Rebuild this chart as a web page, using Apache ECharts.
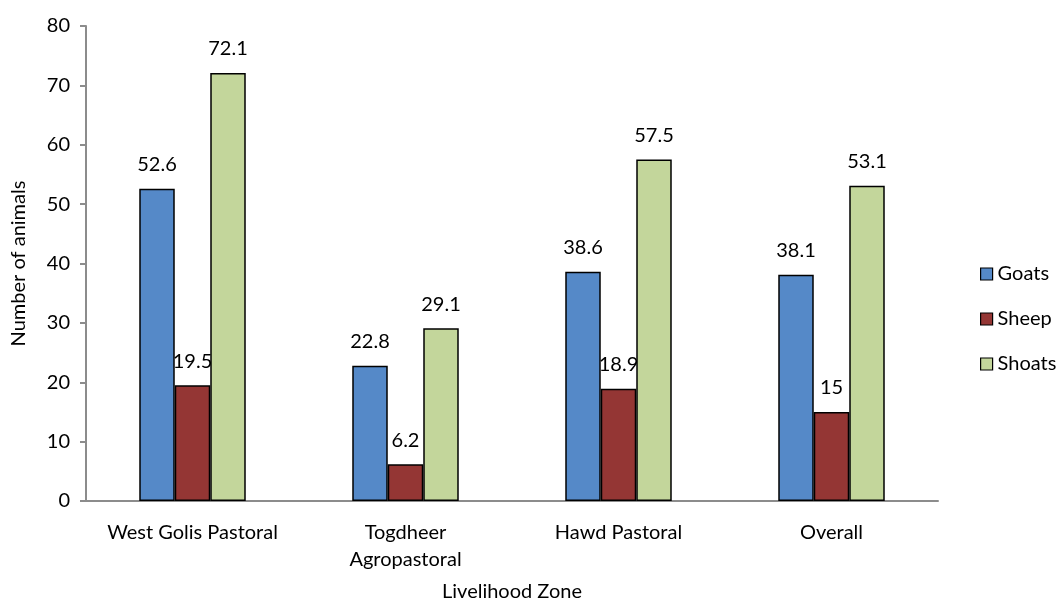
<!DOCTYPE html>
<html>
<head>
<meta charset="utf-8">
<style>
  html, body { margin: 0; padding: 0; background: #fff; }
  #chart { width: 1064px; height: 604px; }
</style>
<script src="https://cdn.jsdelivr.net/npm/echarts@6/dist/echarts.min.js"></script>
</head>
<body>
<div id="chart"></div>
<script>
// Livestock holdings by livelihood zone
const zones = ['West Golis Pastoral', 'Togdheer\nAgropastoral', 'Hawd Pastoral', 'Overall'];
const goats = [52.6, 22.8, 38.6, 38.1];
const sheep = [19.5, 6.2, 18.9, 15];
const shoats = [72.1, 29.1, 57.5, 53.1];
const yTicks = { min: 0, max: 80, interval: 10 };

const FONT = 'Lato, "Open Sans", sans-serif';
const FS = 20;
const chart = echarts.init(document.getElementById('chart'), null, { renderer: 'canvas' });

function barSeries(name, data, color) {
  return {
    name: name,
    type: 'bar',
    data: data,
    barGap: '0%',
    barCategoryGap: '50%',
    itemStyle: { color: color, borderColor: '#000', borderWidth: 1.5 },
    label: {
      show: true,
      position: 'top',
      distance: 14,
      color: '#000',
      fontFamily: FONT,
      fontSize: FS
    }
  };
}

chart.setOption({
  animation: false,
  backgroundColor: '#fff',
  textStyle: { fontFamily: FONT },
  grid: { left: 86, right: 126, top: 26, bottom: 103, containLabel: false, outerBoundsMode: 'none' },
  legend: {
    orient: 'vertical',
    left: 980,
    top: 264,
    padding: 0,
    itemWidth: 12,
    itemHeight: 12,
    itemGap: 25,
    icon: 'rect',
    textStyle: { fontFamily: FONT, fontSize: FS, color: '#000' },
    itemStyle: { borderColor: '#000', borderWidth: 1.2 }
  },
  xAxis: {
    type: 'category',
    data: zones,
    name: 'Livelihood Zone',
    nameLocation: 'middle',
    nameGap: 81,
    nameTextStyle: { fontFamily: FONT, fontSize: FS, color: '#000' },
    axisLine: { lineStyle: { color: '#8c8c8c', width: 2 } },
    axisTick: { show: false },
    axisLabel: { fontFamily: FONT, fontSize: FS, color: '#000', margin: 18, lineHeight: 27, interval: 0 }
  },
  yAxis: {
    type: 'value',
    min: yTicks.min,
    max: yTicks.max,
    interval: yTicks.interval,
    name: 'Number of animals',
    nameLocation: 'middle',
    nameGap: 57,
    nameTextStyle: { fontFamily: FONT, fontSize: FS, color: '#000' },
    axisLine: { show: true, lineStyle: { color: '#8c8c8c', width: 2 } },
    axisTick: { show: true, length: 6, lineStyle: { color: '#8c8c8c', width: 2 } },
    splitLine: { show: false },
    axisLabel: { fontFamily: FONT, fontSize: FS, color: '#000', margin: 16 }
  },
  series: [
    barSeries('Goats', goats, '#5589C8'),
    barSeries('Sheep', sheep, '#943634'),
    barSeries('Shoats', shoats, '#C3D69B')
  ]
});
</script>
</body>
</html>
